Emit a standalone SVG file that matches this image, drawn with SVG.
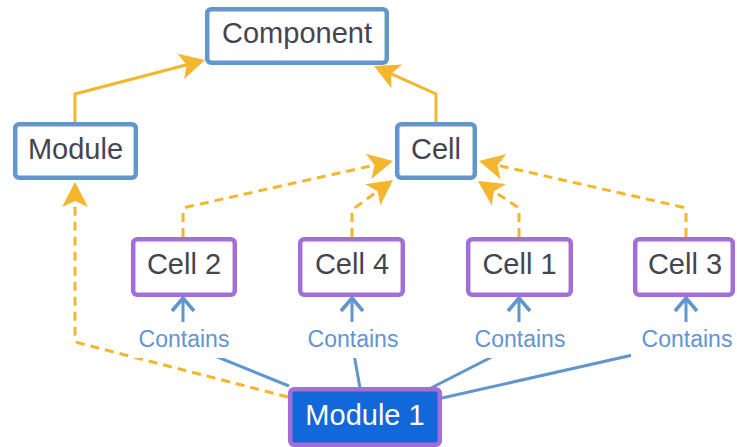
<svg xmlns="http://www.w3.org/2000/svg" width="737" height="447" viewBox="0 0 737 447">
  <style>
    .blue { fill: #ffffff; stroke: #6296cc; stroke-width: 4.5; }
    .purple { fill: #ffffff; stroke: #a26fd8; stroke-width: 4.5; }
    .main { fill: #1268d8; stroke: #a26fd8; stroke-width: 4.5; }
    .lbl { font-family: "Liberation Sans", Arial, sans-serif; font-size: 29px; fill: #45454f; text-anchor: middle; }
    .lbl-w { font-family: "Liberation Sans", Arial, sans-serif; font-size: 29px; fill: #ffffff; text-anchor: middle; }
    .inherit { fill: none; stroke: #f5b62e; stroke-width: 3; marker-end: url(#tri); }
    .impl { fill: none; stroke: #f5b62e; stroke-width: 3; stroke-dasharray: 9 6; marker-end: url(#tri); }
    .has { fill: none; stroke: #6096cc; stroke-width: 3; }
    .has-end { marker-end: url(#vee); }
    .mask { fill: #ffffff; }
    .cap { font-family: "Liberation Sans", Arial, sans-serif; font-size: 23px; fill: #5f94d6; text-anchor: middle; }
  </style>
  <defs>
    <marker id="tri" markerUnits="userSpaceOnUse" markerWidth="40" markerHeight="40" viewBox="-30 -15 40 30" refX="-8" refY="0" orient="auto" overflow="visible">
      <path d="M0,0 L-25,-13 L-19,0 L-25,13 Z" fill="#f5b62e"/>
    </marker>
    <marker id="vee" markerUnits="userSpaceOnUse" markerWidth="30" markerHeight="30" viewBox="-20 -15 30 30" refX="0" refY="0" orient="auto" overflow="visible">
      <path d="M-13,-11 L0,0 L-13,11" fill="none" stroke="#6096cc" stroke-width="3.6"/>
    </marker>
  </defs>

  <rect width="737" height="447" fill="#ffffff"/>

  <g id="connectors">
    <!-- inheritance (solid) -->
    <path class="inherit" d="M75,122 L75,94 L197.3,62"/>
    <path class="inherit" d="M436,122 L436,94 L381.3,69.3"/>
    <!-- realisation (dashed) -->
    <path class="impl" d="M183,237 L183,212 Q183,208 187,207 L385.2,162.7"/>
    <path class="impl" d="M352,237 L352,213 Q352,209 356,207 L386.5,184.7"/>
    <path class="impl" d="M519,237 L519,211 Q519,208 516,206 L484.7,185.4"/>
    <path class="impl" d="M686,237 L686,211 Q686,208 682,207 L486.8,162.8"/>
    <path class="impl" d="M288,397 L79,343 Q75,342 75,338 L75,190"/>
    <!-- containment -->
    <path class="has" d="M289,386 L183,343"/>
    <path class="has" d="M360,388 L352,343"/>
    <path class="has" d="M431,388 L519,343"/>
    <path class="has" d="M442,398 L686,343"/>
    <path class="has has-end" d="M183,343 L183,298"/>
    <path class="has has-end" d="M352,343 L352,298"/>
    <path class="has has-end" d="M519,343 L519,298"/>
    <path class="has has-end" d="M686,343 L686,298"/>
    <!-- edge labels -->
    <rect class="mask" x="133" y="322" width="100" height="36"/>
    <rect class="mask" x="302" y="322" width="100" height="36"/>
    <rect class="mask" x="469" y="322" width="100" height="36"/>
    <rect class="mask" x="631" y="322" width="106" height="36"/>
    <text class="cap" x="184" y="347">Contains</text>
    <text class="cap" x="353" y="347">Contains</text>
    <text class="cap" x="520" y="347">Contains</text>
    <text class="cap" x="687" y="347">Contains</text>
  </g>

  <g id="component">
    <rect class="blue" x="207.2" y="9.2" width="179.6" height="53.6" rx="4"/>
    <text class="lbl" x="297" y="43">Component</text>
  </g>
  <g id="module">
    <rect class="blue" x="15.2" y="124.2" width="120.6" height="53.6" rx="4"/>
    <text class="lbl" x="75.5" y="159">Module</text>
  </g>
  <g id="cell">
    <rect class="blue" x="397.2" y="124.2" width="77.6" height="53.6" rx="4"/>
    <text class="lbl" x="436" y="159">Cell</text>
  </g>
  <g id="cell-2">
    <rect class="purple" x="133.2" y="239.2" width="101.6" height="55.6" rx="4"/>
    <text class="lbl" x="184" y="274">Cell 2</text>
  </g>
  <g id="cell-4">
    <rect class="purple" x="300.2" y="239.2" width="102.6" height="55.6" rx="4"/>
    <text class="lbl" x="352" y="274">Cell 4</text>
  </g>
  <g id="cell-1">
    <rect class="purple" x="468.2" y="239.2" width="102.6" height="55.6" rx="4"/>
    <text class="lbl" x="519.5" y="274">Cell 1</text>
  </g>
  <g id="cell-3">
    <rect class="purple" x="635.2" y="239.2" width="97.6" height="55.6" rx="4"/>
    <text class="lbl" x="685" y="274">Cell 3</text>
  </g>
  <g id="module-1">
    <rect class="main" x="290.2" y="389.2" width="149.6" height="55.6" rx="4"/>
    <text class="lbl-w" x="365" y="425">Module 1</text>
  </g>
</svg>
